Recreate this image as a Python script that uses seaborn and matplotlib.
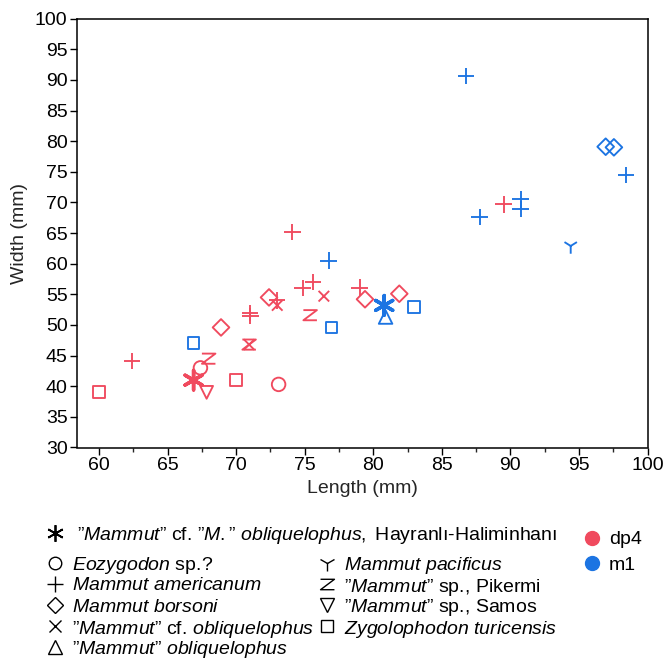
import numpy as np
import pandas as pd
import matplotlib
matplotlib.use("Agg")
import matplotlib.pyplot as plt
from matplotlib.path import Path
from matplotlib.lines import Line2D
from matplotlib.ticker import MultipleLocator
import seaborn as sns

# ---------------- data ----------------
species_order = [
    "Hayranli", "Eozygodon", "americanum", "borsoni", "cf_obliquelophus",
    "obliquelophus", "pacificus", "Pikermi", "Samos", "turicensis",
]

# dp4 (red)
dp4_species = [
    "turicensis", "americanum", "Hayranli", "Eozygodon", "Pikermi", "Samos",
    "turicensis", "borsoni", "americanum", "americanum", "Pikermi",
    "cf_obliquelophus", "borsoni", "cf_obliquelophus", "americanum",
    "Eozygodon", "americanum", "americanum", "americanum", "cf_obliquelophus",
    "Pikermi", "americanum", "borsoni", "borsoni", "americanum",
]
dp4_length = [60.0, 62.4, 66.9, 67.4, 68.0, 67.85, 70.0, 68.9, 71.0, 71.05,
              70.95, 70.95, 72.4, 73.0, 73.0, 73.1, 74.1, 74.85, 75.6, 76.4,
              75.4, 79.0, 79.4, 81.9, 89.5]
dp4_width = [39.0, 44.1, 41.0, 43.0, 44.5, 39.0, 41.0, 49.6, 52.0, 51.5,
             46.8, 46.8, 54.5, 53.2, 54.0, 40.3, 65.2, 56.0, 57.0, 54.7,
             51.6, 56.1, 54.2, 55.1, 69.7]

# m1 (blue)
m1_species = [
    "turicensis", "americanum", "turicensis", "Hayranli", "obliquelophus",
    "turicensis", "americanum", "americanum", "americanum", "americanum",
    "pacificus", "borsoni", "borsoni", "americanum",
]
m1_length = [66.9, 76.75, 76.95, 80.8, 80.9, 83.0, 86.75, 87.75, 90.75,
             90.75, 94.4, 96.95, 97.55, 98.45]
m1_width = [47.0, 60.5, 49.6, 53.2, 51.3, 52.9, 90.6, 67.6, 70.5, 68.9,
            62.9, 79.1, 79.0, 74.5]

tooth_types = ["dp4", "m1"]
x_ticks = [60, 65, 70, 75, 80, 85, 90, 95, 100]
y_ticks = [30, 35, 40, 45, 50, 55, 60, 65, 70, 75, 80, 85, 90, 95, 100]

legend_labels = {
    "Hayranli": r'$\mathit{”Mammut”}$ cf. $\mathit{”M.”\ obliquelophus,\ }$Hayranlı-Haliminhanı',
    "Eozygodon": r'$\mathit{Eozygodon}$ sp.?',
    "americanum": r'$\mathit{Mammut\ americanum}$',
    "borsoni": r'$\mathit{Mammut\ borsoni}$',
    "cf_obliquelophus": r'$\mathit{”Mammut”}$ cf. $\mathit{obliquelophus}$',
    "obliquelophus": r'$\mathit{”Mammut”\ obliquelophus}$',
    "pacificus": r'$\mathit{Mammut\ pacificus}$',
    "Pikermi": r'$\mathit{”Mammut}$” sp., Pikermi',
    "Samos": r'$\mathit{”Mammut}$” sp., Samos',
    "turicensis": r'$\mathit{Zygolophodon\ turicensis}$',
}

df = pd.DataFrame({
    "species": dp4_species + m1_species,
    "tooth": ["dp4"] * len(dp4_species) + ["m1"] * len(m1_species),
    "length": dp4_length + m1_length,
    "width": dp4_width + m1_width,
})

# ---------------- style ----------------
sns.set_style("ticks")
plt.rcParams["font.family"] = ["Liberation Sans", "DejaVu Sans"]
plt.rcParams["mathtext.fontset"] = "custom"
plt.rcParams["mathtext.rm"] = "Liberation Sans"
plt.rcParams["mathtext.it"] = "Liberation Sans:italic"
plt.rcParams["mathtext.default"] = "regular"

palette = {"dp4": "#F04A5E", "m1": "#1C74E2"}
FS = 14

z_path = Path([(-1, 0.75), (1, 0.75), (-1, -0.75), (1, -0.75)],
              [Path.MOVETO, Path.LINETO, Path.LINETO, Path.LINETO])
markers = {
    "Hayranli": (6, 2, 0), "Eozygodon": "o", "americanum": "+", "borsoni": "D",
    "cf_obliquelophus": "x", "obliquelophus": "^", "pacificus": "1",
    "Pikermi": z_path, "Samos": "v", "turicensis": "s",
}
sizes = {
    "Hayranli": 200, "Eozygodon": 95, "americanum": 140, "borsoni": 72,
    "cf_obliquelophus": 58, "obliquelophus": 95, "pacificus": 125,
    "Pikermi": 95, "Samos": 85, "turicensis": 72,
}
lws = {"Hayranli": 2.5}

W, H = 667, 660
fig = plt.figure(figsize=(W / 100, H / 100), dpi=100)
left, right, top, bottom = 77.3, 647.5, 18.7, 447.5
ax = fig.add_axes([left / W, 1 - bottom / H, (right - left) / W, (bottom - top) / H])

for sp in species_order:
    sub = df[df["species"] == sp]
    if sub.empty:
        continue
    n_before = len(ax.collections)
    sns.scatterplot(data=sub, x="length", y="width", hue="tooth",
                    hue_order=tooth_types, palette=palette, marker=markers[sp],
                    s=sizes[sp], linewidth=lws.get(sp, 1.35), legend=False, ax=ax)
    for coll in ax.collections[n_before:]:
        fc = coll.get_facecolors()
        coll.set_edgecolors(fc)
        coll.set_facecolors("none")
        coll.set_linewidths(lws.get(sp, 1.35))

ax.set_xlim(58.42, 100)
ax.set_ylim(30, 100)
ax.set_xticks(x_ticks)
ax.set_yticks(y_ticks)
ax.xaxis.set_minor_locator(MultipleLocator(2.5))
for s in ax.spines.values():
    s.set_linewidth(1.1)
    s.set_color("black")
ax.tick_params(axis="both", which="major", direction="out", length=5,
               width=1.0, labelsize=FS, pad=2, colors="black")
ax.tick_params(axis="x", which="minor", direction="out", length=3, width=1.0)
ax.set_xlabel("Length (mm)", fontsize=FS, labelpad=4)
ax.set_ylabel("Width (mm)", fontsize=FS, labelpad=5)

# ---------------- legends ----------------
def fx(px):
    return px / W

def fy(py):
    return 1 - py / H

legend_rows = [
    ("Hayranli", 55, 77, 533),
    ("Eozygodon", 55, 72, 563), ("americanum", 55, 72, 584),
    ("borsoni", 55, 72, 605), ("cf_obliquelophus", 55, 72, 626),
    ("obliquelophus", 55, 72, 647),
    ("pacificus", 327, 344, 563), ("Pikermi", 327, 344, 584),
    ("Samos", 327, 344, 605), ("turicensis", 327, 344, 626),
]
leg_ms = {"Hayranli": 12, "Eozygodon": 9, "americanum": 12, "borsoni": 8.5,
          "cf_obliquelophus": 8, "obliquelophus": 9.5, "pacificus": 12,
          "Pikermi": 10, "Samos": 9.5, "turicensis": 8}
for sp, mx, tx, yy in legend_rows:
    fig.add_artist(Line2D([fx(mx)], [fy(yy)], transform=fig.transFigure,
                          marker=markers[sp], markersize=leg_ms[sp],
                          markerfacecolor="none", markeredgecolor="black",
                          markeredgewidth=1.3 if sp == "Hayranli" else 1.0,
                          linestyle="none"))
    fig.text(fx(tx), fy(yy), legend_labels[sp], fontsize=FS,
             ha="left", va="center_baseline", color="black")

for i, t in enumerate(tooth_types):
    yy = 538 + 25 * i
    fig.add_artist(Line2D([fx(592)], [fy(yy)], transform=fig.transFigure,
                          marker="o", markersize=10, markerfacecolor=palette[t],
                          markeredgecolor=palette[t], linestyle="none"))
    fig.text(fx(609), fy(yy), t, fontsize=FS, ha="left",
             va="center_baseline", color="black")

fig.savefig("out.png", dpi=100)
